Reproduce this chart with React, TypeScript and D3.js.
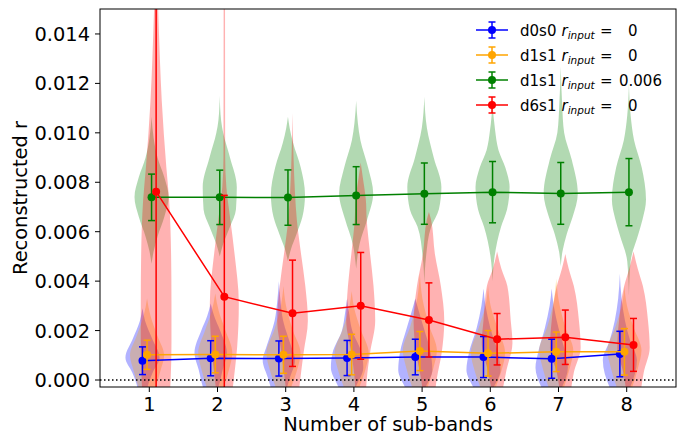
import { useEffect, useRef } from 'react'
import * as d3 from 'd3'

// x positions and tick values
const subBands = [1, 2, 3, 4, 5, 6, 7, 8]
const yTicks = [0, 0.002, 0.004, 0.006, 0.008, 0.01, 0.012, 0.014]

// legend text
const labels = ['d0s0', 'd1s1', 'd1s1', 'd6s1']
const rInputs = ['0', '0', '0.006', '0']

// means and error bar half-lengths
const d0s0Mean = [0.00078, 0.00088, 0.00087, 0.00089, 0.00093, 0.00093, 0.00086, 0.00105]
const d0s0Err = [0.00056, 0.00071, 0.00071, 0.00071, 0.00072, 0.00083, 0.00079, 0.00092]
const d1s1Mean = [0.00102, 0.00103, 0.00102, 0.00103, 0.00117, 0.00108, 0.00114, 0.00114]
const d1s1Err = [0.00059, 0.00074, 0.00075, 0.00082, 0.00079, 0.00092, 0.0008, 0.00094]
const d1s1SigMean = [0.00739, 0.00739, 0.00738, 0.00746, 0.00754, 0.0076, 0.00755, 0.0076]
const d1s1SigErr = [0.00094, 0.0011, 0.00112, 0.00117, 0.00124, 0.00124, 0.00125, 0.00136]
const d6s1Mean = [0.00762, 0.00337, 0.0027, 0.003, 0.00243, 0.00165, 0.00173, 0.00142]
const d6s1Err = [0.0098, 0.0041, 0.00215, 0.00216, 0.0015, 0.00104, 0.0011, 0.00107]

// violin outlines: [value, relative half width], top to bottom
const d0s0Violins = [
  [[0.0029, 0], [0.0024, 0.15], [0.0017, 0.55], [0.0009, 1], [0.0003, 0.6], [-0.0003, 0.3], [-0.0006, 0.25]],
  [[0.0031, 0], [0.0026, 0.2], [0.002, 0.55], [0.0011, 0.95], [0.0004, 0.7], [-0.0003, 0.45], [-0.0006, 0.3]],
  [[0.004, 0], [0.0033, 0.08], [0.0024, 0.25], [0.0013, 0.75], [0.0008, 0.95], [0.0001, 0.65], [-0.0006, 0.35]],
  [[0.0033, 0], [0.0027, 0.12], [0.002, 0.3], [0.0011, 0.85], [0.0005, 0.95], [-0.0003, 0.5], [-0.0006, 0.35]],
  [[0.0033, 0], [0.0028, 0.2], [0.0021, 0.5], [0.0011, 0.9], [0.0004, 1], [-0.0003, 0.6], [-0.0006, 0.4]],
  [[0.0037, 0], [0.003, 0.12], [0.0021, 0.4], [0.0011, 0.85], [0.0004, 1], [-0.0003, 0.6], [-0.0006, 0.4]],
  [[0.0037, 0], [0.003, 0.12], [0.0021, 0.4], [0.0011, 0.8], [0.0005, 0.95], [-0.0003, 0.6], [-0.0006, 0.4]],
  [[0.0043, 0], [0.0033, 0.1], [0.0024, 0.3], [0.0016, 0.6], [0.0008, 1], [-0.0003, 0.6], [-0.0006, 0.4]],
]
const d1s1Violins = [
  [[0.0033, 0], [0.0026, 0.2], [0.0018, 0.6], [0.001, 1], [0.0004, 0.8], [-0.0003, 0.5], [-0.0006, 0.35]],
  [[0.0035, 0], [0.0028, 0.2], [0.002, 0.6], [0.0011, 1], [0.0004, 0.8], [-0.0003, 0.5], [-0.0006, 0.35]],
  [[0.0038, 0], [0.003, 0.15], [0.002, 0.55], [0.0011, 1], [0.0004, 0.8], [-0.0003, 0.45], [-0.0006, 0.3]],
  [[0.0036, 0], [0.0029, 0.15], [0.002, 0.55], [0.0011, 1], [0.0004, 0.8], [-0.0003, 0.45], [-0.0006, 0.3]],
  [[0.0043, 0], [0.0033, 0.15], [0.0022, 0.55], [0.0012, 1], [0.0005, 0.8], [-0.0003, 0.45], [-0.0006, 0.3]],
  [[0.0038, 0], [0.003, 0.15], [0.0021, 0.55], [0.0011, 1], [0.0004, 0.8], [-0.0003, 0.45], [-0.0006, 0.3]],
  [[0.0041, 0], [0.0032, 0.15], [0.0021, 0.55], [0.0012, 1], [0.0005, 0.8], [-0.0003, 0.45], [-0.0006, 0.3]],
  [[0.0038, 0], [0.003, 0.15], [0.0021, 0.55], [0.0012, 1], [0.0005, 0.8], [-0.0003, 0.45], [-0.0006, 0.3]],
]
const d1s1SigViolins = [
  [[0.01065, 0], [0.0098, 0.12], [0.009, 0.35], [0.0082, 0.75], [0.0074, 1], [0.0066, 0.75], [0.0058, 0.35], [0.0052, 0.12], [0.0047, 0]],
  [[0.0115, 0], [0.0105, 0.08], [0.01, 0.2], [0.009, 0.6], [0.0078, 1], [0.0069, 0.95], [0.0062, 0.6], [0.0055, 0.2], [0.005, 0]],
  [[0.01065, 0], [0.0102, 0.1], [0.0096, 0.3], [0.0086, 0.75], [0.0075, 1], [0.0066, 0.85], [0.0059, 0.5], [0.0053, 0.18], [0.0048, 0]],
  [[0.0113, 0], [0.0104, 0.1], [0.0097, 0.25], [0.0086, 0.7], [0.00755, 1], [0.0065, 0.65], [0.0055, 0.2], [0.0045, 0]],
  [[0.01146, 0], [0.0102, 0.15], [0.009, 0.55], [0.0078, 1], [0.0069, 0.85], [0.0062, 0.4], [0.005, 0.1], [0.0039, 0]],
  [[0.0112, 0], [0.0101, 0.15], [0.0093, 0.35], [0.0086, 0.75], [0.0078, 1], [0.0069, 0.85], [0.0062, 0.5], [0.005, 0.12], [0.004, 0]],
  [[0.01268, 0], [0.0112, 0.08], [0.01, 0.2], [0.0089, 0.65], [0.00755, 1], [0.0066, 0.7], [0.0059, 0.35], [0.0052, 0.1], [0.0046, 0]],
  [[0.012, 0], [0.0107, 0.1], [0.0097, 0.3], [0.0086, 0.75], [0.0073, 1], [0.0065, 0.8], [0.0059, 0.55], [0.0048, 0.1], [0.0034, 0]],
]
const d6s1Violins = [
  [[0.0175, 0], [0.015, 0.12], [0.013, 0.22], [0.0113, 0.33], [0.0086, 0.6], [0.0073, 0.76], [0.005, 0.88], [0.0032, 0.9], [0.0015, 0.9], [0, 0.85], [-0.0006, 0.8]],
  [[0.0165, 0], [0.0155, 0.04], [0.009, 0.05], [0.0078, 0.12], [0.0065, 0.35], [0.0051, 0.6], [0.0031, 0.85], [0.0013, 0.75], [0, 0.55], [-0.0006, 0.45]],
  [[0.0108, 0], [0.009, 0.06], [0.0075, 0.15], [0.0065, 0.25], [0.0051, 0.5], [0.0038, 0.75], [0.0024, 0.9], [0.0011, 0.65], [0, 0.45], [-0.0006, 0.35]],
  [[0.0088, 0], [0.0082, 0.12], [0.0073, 0.3], [0.0065, 0.35], [0.0051, 0.55], [0.0038, 0.75], [0.0024, 0.85], [0.0011, 0.55], [0, 0.35], [-0.0006, 0.3]],
  [[0.0068, 0], [0.0065, 0.12], [0.0051, 0.35], [0.0038, 0.7], [0.0024, 0.9], [0.0011, 0.75], [0, 0.45], [-0.0006, 0.35]],
  [[0.0052, 0], [0.0045, 0.25], [0.0038, 0.6], [0.0024, 0.8], [0.0015, 0.9], [0.0004, 0.55], [-0.0003, 0.35], [-0.0006, 0.25]],
  [[0.0051, 0], [0.0045, 0.2], [0.0038, 0.5], [0.0024, 0.8], [0.0013, 0.9], [0.0003, 0.5], [-0.0006, 0.3]],
  [[0.0052, 0], [0.0045, 0.25], [0.0038, 0.55], [0.0024, 0.85], [0.0013, 0.95], [0.0003, 0.6], [-0.0006, 0.4]],
]

const colors = ['#0000ff', '#ffa500', '#008000', '#ff0000']
const offsets = [-0.1, -0.033, 0.033, 0.1]

export default function App() {
  const svgRef = useRef<SVGSVGElement>(null)

  useEffect(() => {
    if (!svgRef.current) return
    const svg = d3.select(svgRef.current)
    svg.selectAll('*').remove()

    const left = 100, right = 676, top = 9, bottom = 387
    const font = "'DejaVu Sans', sans-serif"

    const x = d3.scaleLinear().domain([0.277, 8.723]).range([left, right])
    const y = d3.scaleLinear().domain([-0.000283, 0.01501]).range([bottom, top])

    const series = [
      { mean: d0s0Mean, err: d0s0Err, violins: d0s0Violins },
      { mean: d1s1Mean, err: d1s1Err, violins: d1s1Violins },
      { mean: d1s1SigMean, err: d1s1SigErr, violins: d1s1SigViolins },
      { mean: d6s1Mean, err: d6s1Err, violins: d6s1Violins },
    ]

    svg.append('defs').append('clipPath').attr('id', 'plot-clip')
      .append('rect')
      .attr('x', left).attr('y', top)
      .attr('width', right - left).attr('height', bottom - top)

    const plot = svg.append('g').attr('clip-path', 'url(#plot-clip)')

    // violins (all below the lines)
    const halfW = x(0.25) - x(0)
    series.forEach((s, si) => {
      s.violins.forEach((knots, i) => {
        const cx = x(subBands[i] + offsets[si])
        const area = d3.area<number[]>()
          .y(d => y(d[0]))
          .x0(d => cx - d[1] * halfW)
          .x1(d => cx + d[1] * halfW)
          .curve(d3.curveMonotoneY)
        plot.append('path')
          .attr('d', area(knots))
          .attr('fill', colors[si])
          .attr('fill-opacity', 0.3)
      })
    })

    // zero line
    plot.append('line')
      .attr('x1', left).attr('x2', right)
      .attr('y1', y(0)).attr('y2', y(0))
      .attr('stroke', '#000')
      .attr('stroke-width', 1.5)
      .attr('stroke-dasharray', '1.5,2.5')

    // error bars + lines
    const cap = 3.5
    series.forEach((s, si) => {
      const col = colors[si]
      const pts = subBands.map((b, i) => ({ px: x(b + offsets[si]), m: s.mean[i], e: s.err[i] }))
      const g = plot.append('g')

      g.append('path')
        .attr('d', d3.line<any>().x(d => d.px).y(d => y(d.m))(pts))
        .attr('fill', 'none')
        .attr('stroke', col)
        .attr('stroke-width', 1.5)

      g.selectAll('.bar').data(pts).join('line')
        .attr('x1', d => d.px).attr('x2', d => d.px)
        .attr('y1', d => y(d.m - d.e)).attr('y2', d => y(d.m + d.e))
        .attr('stroke', col).attr('stroke-width', 1.5)

      ;[-1, 1].forEach(sign => {
        g.selectAll('.cap' + sign).data(pts).join('line')
          .attr('x1', d => d.px - cap).attr('x2', d => d.px + cap)
          .attr('y1', d => y(d.m + sign * d.e)).attr('y2', d => y(d.m + sign * d.e))
          .attr('stroke', col).attr('stroke-width', 1.5)
      })

      g.selectAll('circle').data(pts).join('circle')
        .attr('cx', d => d.px).attr('cy', d => y(d.m))
        .attr('r', 4)
        .attr('fill', col)
    })

    // spines
    svg.append('rect')
      .attr('x', left).attr('y', top)
      .attr('width', right - left).attr('height', bottom - top)
      .attr('fill', 'none')
      .attr('stroke', '#000')
      .attr('stroke-width', 1)

    // y axis
    const yAxis = svg.append('g')
    yAxis.selectAll('line').data(yTicks).join('line')
      .attr('x1', left - 5).attr('x2', left)
      .attr('y1', d => y(d)).attr('y2', d => y(d))
      .attr('stroke', '#000')
    yAxis.selectAll('text').data(yTicks).join('text')
      .attr('x', left - 10).attr('y', d => y(d) + 7)
      .attr('text-anchor', 'end')
      .attr('font-family', font).attr('font-size', 19.4)
      .text(d => d3.format('.3f')(d))

    // x axis
    const xAxis = svg.append('g')
    xAxis.selectAll('line').data(subBands).join('line')
      .attr('x1', d => x(d)).attr('x2', d => x(d))
      .attr('y1', bottom).attr('y2', bottom + 5)
      .attr('stroke', '#000')
    xAxis.selectAll('text').data(subBands).join('text')
      .attr('x', d => x(d)).attr('y', bottom + 23.5)
      .attr('text-anchor', 'middle')
      .attr('font-family', font).attr('font-size', 19.4)
      .text(d => d)

    svg.append('text')
      .attr('x', (left + right) / 2).attr('y', 431)
      .attr('text-anchor', 'middle')
      .attr('font-family', font).attr('font-size', 19.4)
      .text('Number of sub-bands')

    svg.append('text')
      .attr('transform', `translate(27,${(top + bottom) / 2}) rotate(-90)`)
      .attr('text-anchor', 'middle')
      .attr('font-family', font).attr('font-size', 19.4)
      .text('Reconstructed r')

    // legend
    const leg = svg.append('g').attr('font-family', font)
    labels.forEach((lab, i) => {
      const ry = 30 + i * 25
      const col = colors[i]
      leg.append('line')
        .attr('x1', 476).attr('x2', 508).attr('y1', ry).attr('y2', ry)
        .attr('stroke', col).attr('stroke-width', 1.5)
      leg.append('line')
        .attr('x1', 492).attr('x2', 492).attr('y1', ry - 8).attr('y2', ry + 8)
        .attr('stroke', col).attr('stroke-width', 1.5)
      ;[-8, 8].forEach(dy => {
        leg.append('line')
          .attr('x1', 492 - cap).attr('x2', 492 + cap)
          .attr('y1', ry + dy).attr('y2', ry + dy)
          .attr('stroke', col).attr('stroke-width', 1.5)
      })
      leg.append('circle').attr('cx', 492).attr('cy', ry).attr('r', 4).attr('fill', col)

      const t = leg.append('text').attr('x', 520).attr('y', ry + 5.5).attr('font-size', 15)
      t.append('tspan').text(lab)
      t.append('tspan').attr('x', 561.5).attr('font-style', 'italic').text('r')
      t.append('tspan').attr('font-style', 'italic').attr('font-size', 10.5).attr('dy', 3).text('input')

      leg.append('text').attr('x', 600).attr('y', ry + 5.5).attr('font-size', 15).text('=')
      leg.append('text')
        .attr('x', rInputs[i] === '0' ? 628 : 619)
        .attr('y', ry + 5.5).attr('font-size', 15)
        .text(rInputs[i])
    })
  }, [])

  return (
    <svg
      ref={svgRef}
      width={677}
      height={434}
      style={{ position: 'absolute', left: 0, top: 0, background: '#fff' }}
    />
  )
}
